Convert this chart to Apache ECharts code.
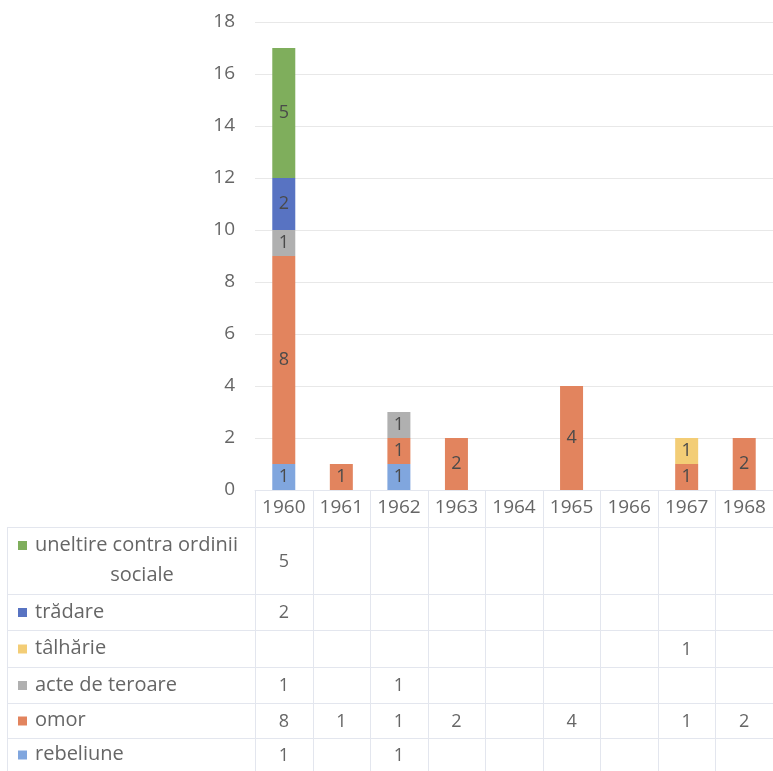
<!DOCTYPE html>
<html><head><meta charset="utf-8">
<script src="https://cdn.jsdelivr.net/npm/echarts@6/dist/echarts.min.js"></script>
<style>html,body{margin:0;padding:0;background:#fff}#c{width:773px;height:771px}</style>
</head><body><div id="c"></div>
<script>
const categories = ['1960','1961','1962','1963','1964','1965','1966','1967','1968'];
const rebeliune = [1,null,1,null,null,null,null,null,null];
const omor = [8,1,1,2,null,4,null,1,2];
const acteDeTeroare = [1,null,1,null,null,null,null,null,null];
const talharie = [null,null,null,null,null,null,null,1,null];
const tradare = [2,null,null,null,null,null,null,null,null];
const uneltire = [5,null,null,null,null,null,null,null,null];
const yTicks = [0,2,4,6,8,10,12,14,16,18];

const seriesDefs = [
  {name:'rebeliune', label:'rebeliune', data:rebeliune, color:'#80A6DE'},
  {name:'omor', label:'omor', data:omor, color:'#E2845E'},
  {name:'acte de teroare', label:'acte de teroare', data:acteDeTeroare, color:'#B0B0B0'},
  {name:'tâlhărie', label:'tâlhărie', data:talharie, color:'#F3CD76'},
  {name:'trădare', label:'trădare', data:tradare, color:'#5873C2'},
  {name:'uneltire contra ordinii sociale', label:'uneltire contra ordinii\nsociale', data:uneltire, color:'#7FAE5C'}
];

const FONT = '"Open Sans", "Noto Sans", sans-serif';
const TXT = '#666666';
const LINE = '#e3e6ee';

const chart = echarts.init(document.getElementById('c'));
chart.setOption({
  animation:false,
  textStyle:{fontFamily:FONT},
  grid:{left:255, right:0, top:22, bottom:281, containLabel:false},
  xAxis:{type:'category', data:categories,
    axisLine:{show:true, lineStyle:{color:LINE}},
    axisTick:{show:false},
    axisLabel:{color:TXT, fontSize:19, fontFamily:FONT, margin:8}},
  yAxis:{type:'value', min:yTicks[0], max:yTicks[yTicks.length-1], interval:2,
    axisLine:{show:false}, axisTick:{show:false},
    splitLine:{lineStyle:{color:'#e8e8e8'}},
    axisLabel:{color:TXT, fontSize:19, fontFamily:FONT, margin:20}},
  series: seriesDefs.map(s=>({
    name:s.name, type:'bar', stack:'total', barWidth:23,
    data:s.data, itemStyle:{color:s.color},
    label:{show:true, position:'inside', color:'#4a4a4a', fontSize:18, fontFamily:FONT}
  }))
});

// Data table below the chart
const rowsTopDown = seriesDefs.slice().reverse();
const rowLines = [527, 594, 630, 667, 703, 738, 771];
const g = [];
const x0 = chart.convertToPixel({xAxisIndex:0}, categories[0]);
const x1 = chart.convertToPixel({xAxisIndex:0}, categories[1]);
const cw = x1 - x0;
const tableLeft = 7, colStart = x0 - cw/2, yAxisBase = chart.convertToPixel({yAxisIndex:0}, 0);
g.push({type:'line', shape:{x1:tableLeft+0.5, y1:rowLines[0], x2:tableLeft+0.5, y2:771}, style:{stroke:LINE, lineWidth:1}, silent:true});
for (let i=0;i<=categories.length;i++){
  const x = Math.round(colStart + i*cw)+0.5;
  g.push({type:'line', shape:{x1:x, y1:yAxisBase, x2:x, y2:771}, style:{stroke:LINE, lineWidth:1}, silent:true});
}
rowLines.forEach(y=>{
  g.push({type:'line', shape:{x1:tableLeft, y1:y+0.5, x2:773, y2:y+0.5}, style:{stroke:LINE, lineWidth:1}, silent:true});
});
rowsTopDown.forEach((s, r)=>{
  const top = rowLines[r], bot = rowLines[r+1];
  const cy = (top+bot)/2;
  const twoLine = s.label.indexOf('\n')>=0;
  const markerY = twoLine ? top+14 : cy-4;
  g.push({type:'rect', shape:{x:18, y:markerY, width:9, height:9}, style:{fill:s.color}, silent:true});
  if (twoLine){
    const parts = s.label.split('\n');
    g.push({type:'text', style:{text:parts[0], x:35, y:top+18, fill:TXT, font:'20px '+FONT, textVerticalAlign:'middle', textAlign:'left'}, silent:true});
    g.push({type:'text', style:{text:parts[1], x:142, y:top+48, fill:TXT, font:'20px '+FONT, textVerticalAlign:'middle', textAlign:'center'}, silent:true});
  } else {
    g.push({type:'text', style:{text:s.label, x:35, y:cy, fill:TXT, font:'20px '+FONT, textVerticalAlign:'middle', textAlign:'left'}, silent:true});
  }
  s.data.forEach((v,i)=>{
    if (v==null) return;
    const cx = chart.convertToPixel({xAxisIndex:0}, categories[i]);
    g.push({type:'text', style:{text:String(v), x:cx, y:cy+1, fill:TXT, font:'18px '+FONT, textVerticalAlign:'middle', textAlign:'center'}, silent:true});
  });
});
chart.setOption({graphic:g});
</script></body></html>
